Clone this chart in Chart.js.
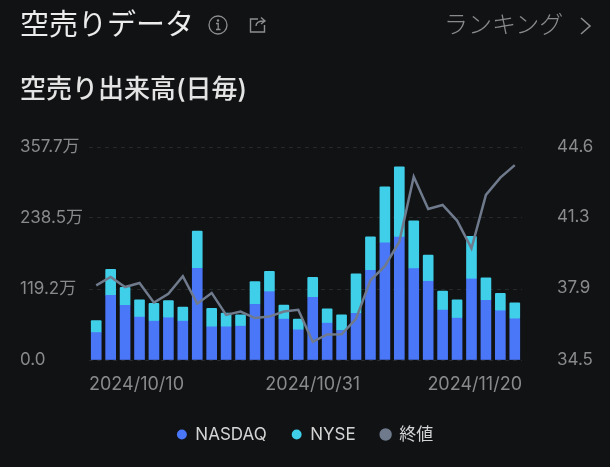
<!DOCTYPE html>
<html lang="ja"><head><meta charset="utf-8">
<script src="https://cdn.jsdelivr.net/npm/chart.js@4"></script>
<style>
html,body{margin:0;padding:0;background:#101214;overflow:hidden;width:610px;height:467px}
#wrap{position:relative;width:610px;height:467px;font-family:Inter,"Noto Sans CJK JP",sans-serif}
canvas{position:absolute;left:0;top:0}
.t{position:absolute;white-space:nowrap;line-height:1}
svg{position:absolute}
</style></head><body>
<div id="wrap">
<canvas id="c" width="610" height="467"></canvas>
<div class="t" style="left:20px;top:10px;font-size:29px;color:#ececec;font-weight:400">空売りデータ</div>
<div class="t" style="left:20px;top:76px;font-size:26px;color:#e4e4e4;font-weight:500">空売り出来高(日毎)</div>
<div class="t" style="left:444px;top:13px;font-size:24px;color:#8a8a8a;font-weight:300">ランキング</div>
<svg style="left:208px;top:15px" width="20" height="20" viewBox="0 0 20 20" fill="none" stroke="#8e8e8e" stroke-width="1.3"><circle cx="10" cy="10" r="9"/><path d="M8 8.5h2.2V14M8 14.5h4.5"/><circle cx="10" cy="5.5" r=".6"/></svg>
<svg style="left:248px;top:15px" width="20" height="20" viewBox="0 0 20 20" fill="none" stroke="#8e8e8e" stroke-width="1.4"><path d="M10 4H2.5v13h14v-7"/><path d="M8 11c0-3.5 3-5 8-5M13 2.5L17 6l-4 3"/></svg>
<svg style="left:579px;top:16px" width="14" height="20" viewBox="0 0 14 20" fill="none" stroke="#8a8a8a" stroke-width="1.6"><path d="M2 2l9 8-9 8"/></svg>
</div>
<script>
const categories=["2024/10/10","2024/10/11","2024/10/14","2024/10/15","2024/10/16","2024/10/17","2024/10/18","2024/10/21","2024/10/22","2024/10/23","2024/10/24","2024/10/25","2024/10/28","2024/10/29","2024/10/30","2024/10/31","2024/11/01","2024/11/04","2024/11/05","2024/11/06","2024/11/07","2024/11/08","2024/11/11","2024/11/12","2024/11/13","2024/11/14","2024/11/15","2024/11/18","2024/11/19","2024/11/20"];
const nasdaq=[46.1,108.5,91.7,72.0,65.2,70.9,65.2,154.1,55.7,55.7,56.8,93.4,114.7,68.6,50.6,105.2,61.9,49.5,78.2,150.7,196.8,206.4,153.5,132.2,83.8,70.3,136.1,100.1,82.7,69.2];
const nyse=[20.2,43.9,30.4,29.2,29.8,28.7,23.6,62.4,30.9,23.1,19.1,38.2,34.3,23.6,18.0,33.7,24.2,26.4,66.4,56.2,93.9,118.1,80.4,43.9,32.1,30.9,71.4,37.7,29.2,27.0];
const closePrice=[38.04,38.44,37.96,38.15,37.22,37.64,38.47,37.17,37.68,36.64,36.80,36.49,36.56,36.80,36.88,35.36,35.71,35.72,36.45,38.28,38.95,40.11,43.19,41.66,41.85,41.11,39.80,42.33,43.15,43.74];
const xTickIndexes=[0,15,29];
const leftTicks=[0,119.2,238.5,357.7];
const rightTicks=[34.5,37.9,41.3,44.6];
const fam='Inter,"Noto Sans CJK JP",sans-serif';
const tickColor='#888a8c';
const alignEnds={id:'alignEnds',beforeDraw(ch){
  const items=ch.scales.x.getLabelItems(ch.chartArea);
  if(items.length){
    items[0].options.textAlign='left';items[0].options.translation[0]=ch.chartArea.left;
    const l=items[items.length-1];l.options.textAlign='right';l.options.translation[0]=ch.chartArea.right;
  }
  ch.scales.y.getLabelItems(ch.chartArea).forEach(it=>{it.options.translation[0]=20;});
}};
new Chart(document.getElementById('c'),{
  type:'bar',
  plugins:[alignEnds],
  data:{labels:categories,datasets:[
    {label:'NASDAQ',data:nasdaq,backgroundColor:'#4a76f8',stack:'s',yAxisID:'y',order:2,borderRadius:1,borderSkipped:false},
    {label:'NYSE',data:nyse,backgroundColor:'#3fcfe8',stack:'s',yAxisID:'y',order:2,borderRadius:1,borderSkipped:false},
    {type:'line',label:'終値',data:closePrice,borderColor:'#6f7a8c',backgroundColor:'#6f7a8c',borderWidth:2.5,pointRadius:0,tension:0,yAxisID:'y1',order:1}
  ]},
  options:{
    responsive:false,animation:false,
    layout:{padding:{top:147,left:0,right:0,bottom:14}},
    datasets:{bar:{barThickness:10}},
    plugins:{
      tooltip:{enabled:false},
      legend:{position:'bottom',labels:{usePointStyle:true,boxWidth:10,boxHeight:7,padding:25,color:'#d4d4d4',font:{family:fam,size:17},sort:(a,b)=>a.datasetIndex-b.datasetIndex}}
    },
    scales:{
      x:{stacked:true,grid:{display:false},border:{display:false},
        afterBuildTicks(s){s.ticks=xTickIndexes.map(i=>({value:i}));},
        afterFit(s){s.height=41;},
        ticks:{color:tickColor,font:{family:fam,size:18},padding:6,autoSkip:false,maxRotation:0,
          callback(v){return categories[v];}}},
      y:{stacked:true,position:'left',min:0,max:357.7,
        grid:{color:'#26292c',drawTicks:false},border:{display:false,dash:[4,4]},
        afterBuildTicks(s){s.ticks=leftTicks.map(v=>({value:v}));},
        afterFit(s){s.width=89;},
        ticks:{color:tickColor,font:{family:fam,size:17},padding:9,crossAlign:'far',callback:v=>v===0?'0.0':v.toFixed(1)+'万'}},
      y1:{position:'right',min:34.5,max:44.6,grid:{display:false,drawTicks:false},border:{display:false},
        afterBuildTicks(s){s.ticks=rightTicks.map(v=>({value:v}));},
        afterFit(s){s.width=88;},
        ticks:{color:tickColor,font:{family:fam,size:17},padding:35,callback:v=>v.toFixed(1)}}
    }
  }
});
</script>
</body></html>
